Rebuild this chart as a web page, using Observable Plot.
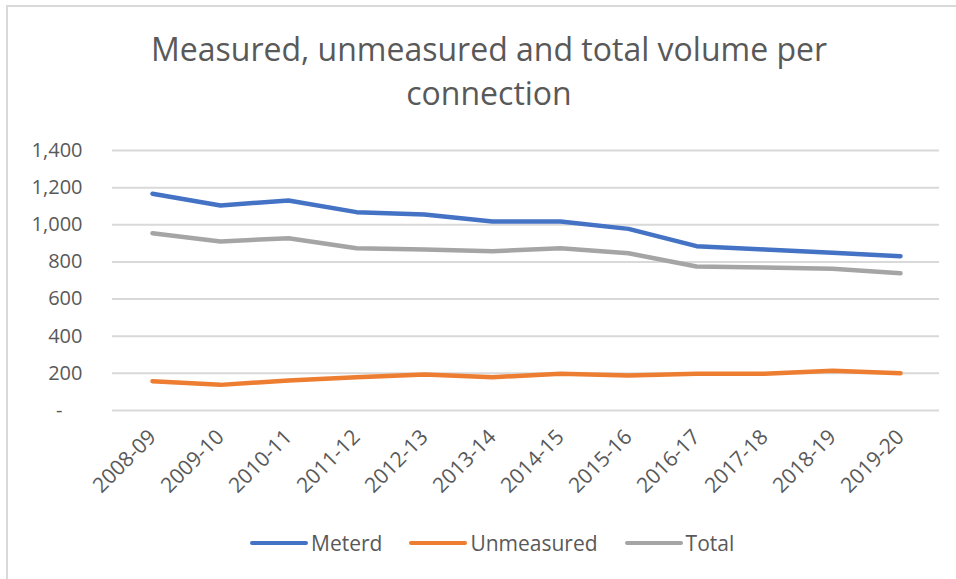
<!DOCTYPE html>
<html>
<head>
<meta charset="utf-8">
<script src="https://cdn.jsdelivr.net/npm/d3@7"></script>
<script src="https://cdn.jsdelivr.net/npm/@observablehq/plot@0.6"></script>
<style>
  html, body { margin: 0; padding: 0; background: #fff; }
  body { width: 956px; height: 579px; position: relative; overflow: hidden; font-family: "Open Sans", sans-serif; color: #595959; }
  #frame { position: absolute; left: 6px; top: 5px; width: 1000px; height: 700px; border-left: 2px solid #d9d9d9; border-top: 2px solid #d9d9d9; }
  #title { position: absolute; left: 0; top: 27px; width: 978px; text-align: center; font-size: 32px; line-height: 44px; color: #595959; }
  #chart { position: absolute; left: 0; top: 130px; }
  #legend { position: absolute; left: 250px; top: 529px; display: flex; align-items: center; font-size: 21px; color: #595959; white-space: nowrap; }
  .item { display: flex; align-items: center; margin-right: 27px; }
  .sw { display: inline-block; width: 58px; height: 4px; border-radius: 2px; margin-right: 3px; }
</style>
</head>
<body>
<div id="frame"></div>
<div id="title">Measured, unmeasured and total volume per<br>connection</div>
<div id="chart"></div>
<div id="legend"></div>
<script>
const years = ["2008-09","2009-10","2010-11","2011-12","2012-13","2013-14","2014-15","2015-16","2016-17","2017-18","2018-19","2019-20"];
const meterd     = [1167, 1104, 1131, 1068, 1055, 1018, 1018, 978, 885, 867, 849, 831];
const unmeasured = [158, 138, 162, 179, 194, 179, 198, 188, 198, 198, 214, 201];
const total      = [955, 910, 928, 874, 867, 858, 874, 847, 775, 770, 763, 739];
const seriesNames = ["Meterd", "Unmeasured", "Total"];
const seriesColors = ["#4472C4", "#ED7D31", "#A5A5A5"];
const yTicks = [0, 200, 400, 600, 800, 1000, 1200, 1400];

const seriesValues = [meterd, unmeasured, total];
const rows = [];
seriesNames.forEach((name, i) => {
  years.forEach((yr, j) => rows.push({year: yr, value: seriesValues[i][j], series: name}));
});

const fmt = d3.format(",");
const chart = Plot.plot({
  width: 956,
  height: 400,
  marginTop: 20,
  marginBottom: 120,
  marginLeft: 112,
  marginRight: 17,
  style: {fontFamily: "Open Sans, sans-serif", fontSize: "20px", color: "#595959", background: "transparent"},
  x: {type: "point", domain: years, padding: 0.5, label: null},
  y: {domain: [0, 1400], label: null},
  color: {domain: seriesNames, range: seriesColors},
  marks: [
    Plot.gridY(yTicks, {stroke: "#d9d9d9", strokeOpacity: 1, strokeWidth: 2}),
    Plot.axisY(yTicks, {tickSize: 0, tickPadding: 30, tickFormat: d => d === 0 ? "-\u2003" : fmt(d), label: null}),
    Plot.axisX({tickSize: 0, tickPadding: 23, tickRotate: -45, fontSize: 21, label: null}),
    Plot.line(rows, {x: "year", y: "value", z: "series", stroke: "series", strokeWidth: 4.5, strokeLinecap: "round", strokeLinejoin: "round"})
  ]
});
document.getElementById("chart").appendChild(chart);

const legend = document.getElementById("legend");
seriesNames.forEach((name, i) => {
  const item = document.createElement("div");
  item.className = "item";
  const sw = document.createElement("span");
  sw.className = "sw";
  sw.style.background = seriesColors[i];
  item.appendChild(sw);
  item.appendChild(document.createTextNode(name));
  legend.appendChild(item);
});
</script>
</body>
</html>
